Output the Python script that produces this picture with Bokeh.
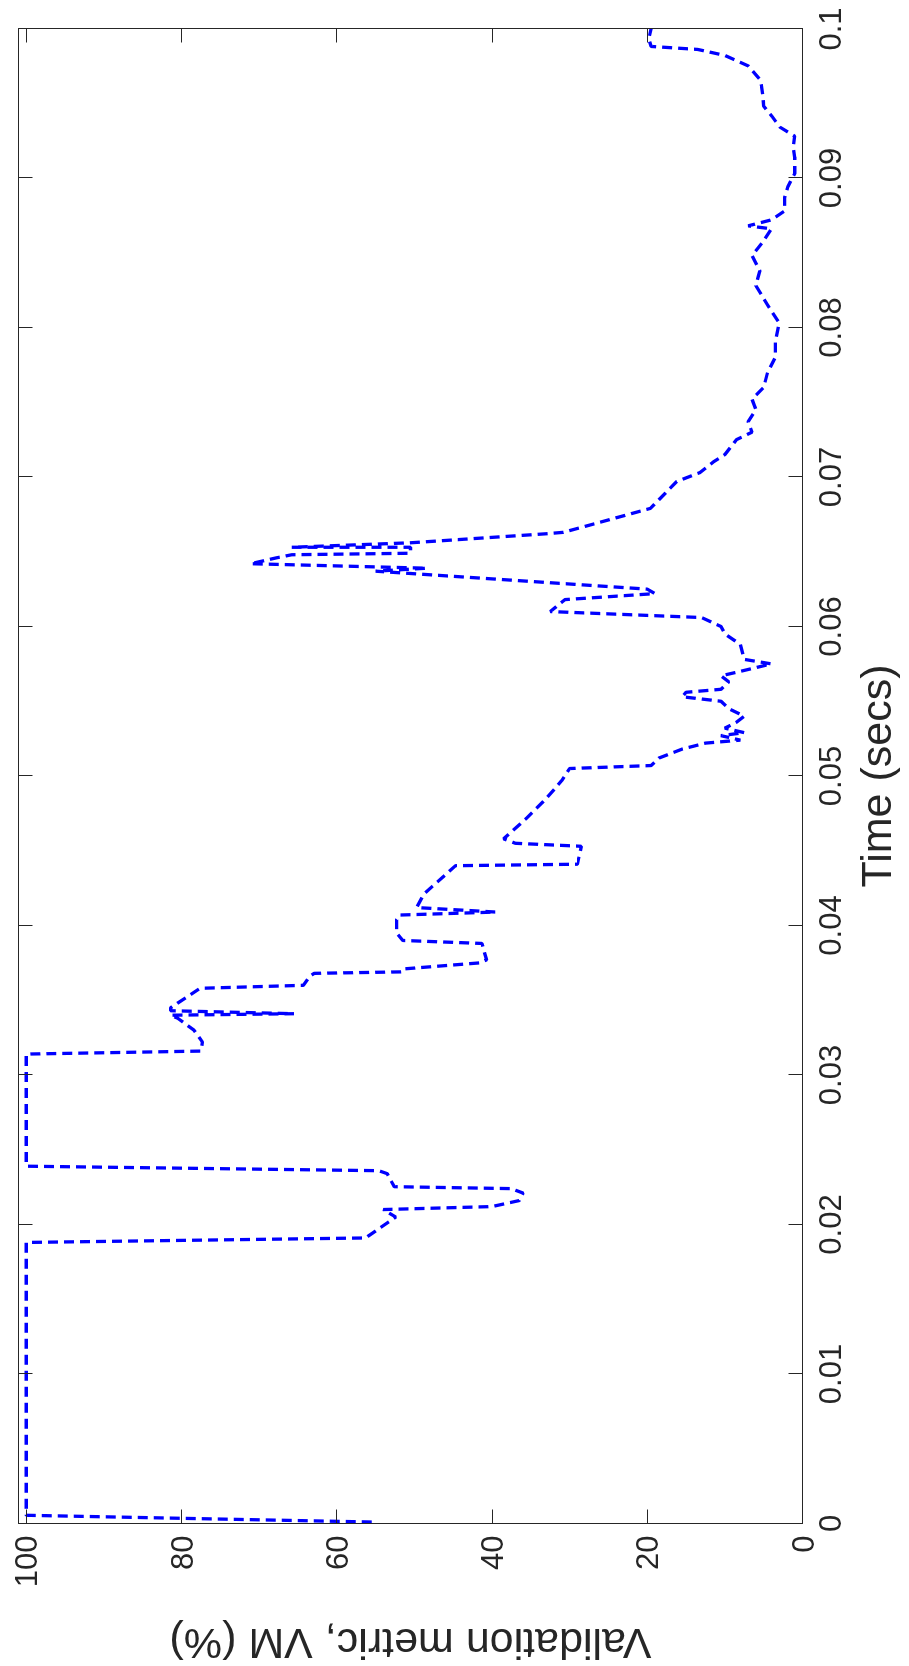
from bokeh.plotting import figure
from bokeh.models import Range1d, LinearAxis, FixedTicker
from bokeh.embed import file_html
from bokeh.resources import INLINE

# Time (s) and validation metric VM (%)
time_s = [0.0001, 0.00055, 0.0188, 0.0191, 0.0205, 0.0210, 0.0212, 0.0216, 0.0221, 0.0224,
          0.02253, 0.0234, 0.0236, 0.0239, 0.0314, 0.0316, 0.0322, 0.0330, 0.0338, 0.0340,
          0.0341, 0.0343, 0.0345, 0.0358, 0.0360, 0.0366, 0.0368, 0.0369, 0.0371, 0.0375,
          0.0377, 0.0388, 0.0390, 0.0395, 0.0404, 0.0407, 0.0409, 0.0412, 0.0421, 0.0433,
          0.0440, 0.0441, 0.0453, 0.0455, 0.0458, 0.0472, 0.0485, 0.0497, 0.0505, 0.0507,
          0.0512, 0.0518, 0.0522, 0.0524, 0.0527, 0.0529, 0.0532, 0.0536, 0.0540, 0.0545,
          0.0550, 0.0553, 0.0556, 0.0558, 0.0563, 0.0567, 0.0570, 0.0575, 0.0578, 0.0588,
          0.0595, 0.0600, 0.0606, 0.0610, 0.0618, 0.0622, 0.0625, 0.0637, 0.0639, 0.0642,
          0.0646, 0.0648, 0.0649, 0.0653, 0.0653, 0.0656, 0.0662, 0.0663, 0.0679, 0.0697,
          0.0703, 0.0710, 0.0715, 0.0725, 0.0730, 0.0737, 0.0745, 0.0752, 0.0760, 0.0770,
          0.0780, 0.0790, 0.0803, 0.0815, 0.0828, 0.0838, 0.0848, 0.0858, 0.0866, 0.0868,
          0.0872, 0.0878, 0.0887, 0.0894, 0.0903, 0.0914, 0.0920, 0.0928, 0.0934, 0.0941,
          0.0948, 0.0955, 0.0962, 0.0966, 0.0975, 0.0982, 0.0986, 0.0988, 0.0993, 0.1000]
vm_pct = [55.5, 100, 100, 56.3, 52.4, 54.0, 40.0, 36.5, 36.0, 37.5,
          52.6, 53.5, 54.6, 100, 100, 77.5, 77.3, 78.4, 80.5, 81.4,
          65.5, 81.4, 81.4, 77.6, 64.3, 63.5, 62.9, 51.5, 51.3, 41.6,
          40.7, 41.3, 51.5, 52.3, 52.3, 51.9, 39.5, 49.7, 48.8, 46.2,
          44.7, 29.0, 28.5, 37.0, 38.5, 35.5, 33.0, 31.0, 30.0, 19.5,
          18.5, 15.5, 12.5, 8.0, 10.5, 7.5, 10.0, 8.5, 7.5, 9.5,
          10.5, 15.5, 15.0, 10.5, 9.5, 10.5, 8.0, 4.0, 7.5, 8.0,
          10.0, 10.5, 13.0, 32.5, 30.6, 19.0, 20.0, 55.0, 48.4, 71.1,
          67.7, 65.8, 50.5, 50.5, 65.8, 50.5, 33.1, 30.8, 19.6, 16.2,
          13.2, 11.5, 10.0, 8.5, 6.5, 7.0, 6.0, 6.5, 5.0, 4.5,
          3.5, 3.5, 3.0, 4.5, 6.0, 5.5, 6.5, 5.0, 4.0, 7.0,
          4.0, 2.3, 2.3, 1.9, 1.0, 1.0, 1.2, 1.0, 2.9, 3.9,
          5.0, 5.1, 5.3, 5.5, 7.0, 10.0, 13.5, 19.5, 19.8, 19.5]

vm_ticks = [0, 20, 40, 60, 80, 100]
vm_tick_labels = ["0", "20", "40", "60", "80", "100"]
time_ticks = [0, 0.01, 0.02, 0.03, 0.04, 0.05, 0.06, 0.07, 0.08, 0.09, 0.1]
time_tick_labels = ["0", "0.01", "0.02", "0.03", "0.04", "0.05", "0.06", "0.07", "0.08", "0.09", "0.1"]
x_title = "Time (secs)"
y_title = "Validation metric, VM (%)"

FONT = "Liberation Sans"
INK = "#262626"

# The reference is an ordinary time/VM plot turned a quarter turn counter-clockwise.
# It is built upright here and the whole figure is rotated with CSS.  The canvas is
# kept square so that the rotated box is as large as the upright one; the spare
# room is put on the upright top side, which ends up off-page to the left.
FW, FH = 1495, 784                      # frame: time along x, VM along y
B_LEFT, B_RIGHT, B_BOTTOM = 170, 21, 115
SIDE = B_LEFT + FW + B_RIGHT
B_TOP = SIDE - FH - B_BOTTOM
SHIFT = B_TOP - 10                      # frame edge lands 10 px inside the figure box

p = figure(frame_width=FW, frame_height=FH,
           x_range=Range1d(0, 0.1), y_range=Range1d(0, 101),
           output_backend="svg", toolbar_location=None,
           min_border_left=B_LEFT, min_border_right=B_RIGHT,
           min_border_top=B_TOP, min_border_bottom=B_BOTTOM,
           styles={"position": "fixed", "left": "8px", "top": "8px",
                   "transform-origin": "0 0",
                   "transform": f"translate({-SHIFT}px, {SIDE}px) rotate(-90deg)"})
p.background_fill_color = "white"
p.border_fill_color = "white"
p.outline_line_color = INK
p.outline_line_width = 1
p.grid.visible = False

p.line(time_s, vm_pct, line_color="#0000ff", line_width=3.3, line_dash="10 6")

def style(ax, ticks):
    ax.ticker = FixedTicker(ticks=ticks)
    ax.axis_line_color = INK
    ax.major_tick_line_color = INK
    ax.major_tick_in = 14
    ax.major_tick_out = 0
    ax.minor_tick_line_color = None
    ax.major_label_text_font = FONT
    ax.major_label_text_color = INK
    ax.major_label_text_font_size = "31px"
    ax.axis_label_text_font = FONT
    ax.axis_label_text_color = INK
    ax.axis_label_text_font_style = "normal"
    ax.axis_label_text_font_size = "43px"

xa = p.xaxis[0]
style(xa, time_ticks)
xa.major_label_overrides = dict(zip(time_ticks, time_tick_labels))
xa.major_label_standoff = 16
xa.axis_label = x_title
xa.axis_label_standoff = 8

ya = p.yaxis[0]
style(ya, vm_ticks)
ya.major_label_overrides = dict(zip(vm_ticks, vm_tick_labels))
ya.major_label_standoff = 12
ya.axis_label = y_title
ya.axis_label_standoff = 30

# mirrored tick marks on the opposite edges (box on)
for side, ticks in (("above", time_ticks), ("right", vm_ticks)):
    ax = LinearAxis()
    style(ax, ticks)
    ax.major_label_text_color = None
    ax.major_label_text_font_size = "1px"
    ax.major_label_standoff = 0
    p.add_layout(ax, side)

open("out.html", "w").write(file_html(p, INLINE))
